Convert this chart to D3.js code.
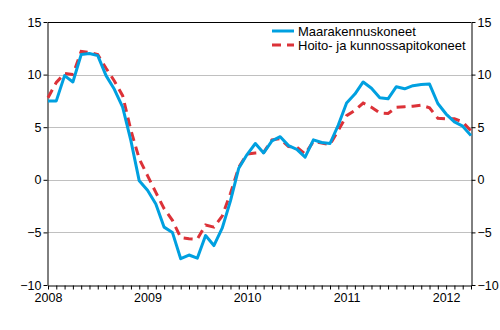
<!DOCTYPE html>
<html>
<head>
<meta charset="utf-8">
<script src="https://cdn.jsdelivr.net/npm/d3@7"></script>
<style>
  body { margin: 0; background: #fff; }
  svg text { font-family: "Liberation Sans", Arial, sans-serif; font-size: 12.5px; fill: #000; }
</style>
</head>
<body>
<div class="chart"></div>
<script>
// monthly index change, Jan 2008 .. Apr 2012
const yearLabels = ["2008", "2009", "2010", "2011", "2012"];
const yTicks = [-10, -5, 0, 5, 10, 15];
const seriesNames = ["Maarakennuskoneet", "Hoito- ja kunnossapitokoneet"];

const maarakennus = [
  7.5, 7.5, 9.9, 9.3, 11.9, 12.0, 11.8, 9.9, 8.6, 6.9, 3.7, -0.1,
  -1.0, -2.3, -4.5, -5.0, -7.5, -7.15, -7.45, -5.3, -6.25, -4.6, -2.0, 1.1,
  2.4, 3.45, 2.55, 3.7, 4.1, 3.25, 2.9, 2.15, 3.8, 3.55, 3.45, 5.2,
  7.3, 8.15, 9.3, 8.7, 7.8, 7.7, 8.85, 8.65, 8.95, 9.05, 9.1, 7.25,
  6.25, 5.5, 5.1, 4.2
];
const hoito = [
  7.8, 9.25, 10.1, 10.0, 12.2, 12.1, 11.9, 10.6, 9.4, 8.0, 4.7, 2.0,
  0.4, -1.2, -2.75, -3.85, -5.5, -5.6, -5.65, -4.3, -4.5, -3.45, -1.3, 1.2,
  2.45, 2.55, 2.6, 3.8, 3.9, 3.15, 3.1, 2.45, 3.65, 3.5, 3.35, 4.7,
  6.1, 6.6, 7.3, 6.9, 6.35, 6.3, 6.9, 6.95, 7.0, 7.1, 6.85, 5.85,
  5.8, 5.8, 5.5, 4.65
];

const width = 500, height = 330;
const plotLeft = 48, plotRight = 471, plotTop = 22, plotBottom = 285;

const svg = d3.select(".chart")
  .append("svg")
  .attr("width", width)
  .attr("height", height);

const x = d3.scaleLinear().domain([0, maarakennus.length - 1]).range([plotLeft, plotRight]);
const y = d3.scaleLinear().domain([-10, 15]).range([plotBottom, plotTop]);

// gridlines
svg.append("g")
  .selectAll("line")
  .data(yTicks.filter(d => d > -10 && d < 15))
  .enter()
  .append("line")
  .attr("x1", plotLeft).attr("x2", plotRight)
  .attr("y1", d => Math.round(y(d)) + 0.5)
  .attr("y2", d => Math.round(y(d)) + 0.5)
  .attr("stroke", "#c0c0c0");

// top frame line
svg.append("line")
  .attr("x1", plotLeft).attr("x2", plotRight)
  .attr("y1", Math.round(y(15)) + 0.5).attr("y2", Math.round(y(15)) + 0.5)
  .attr("stroke", "#000");

const styleAxis = g => {
  g.selectAll("path, line").attr("stroke", "#000");
  g.selectAll("text").attr("fill", "#000").style("font-size", "12.5px")
    .attr("font-family", null);
};

svg.append("g")
  .attr("transform", "translate(" + (plotLeft - 0.5) + ",0)")
  .call(d3.axisLeft(y).tickValues(yTicks).tickSize(4).tickSizeOuter(0).tickPadding(2))
  .call(styleAxis);

svg.append("g")
  .attr("transform", "translate(" + (plotRight + 0.5) + ",0)")
  .call(d3.axisRight(y).tickValues(yTicks).tickSize(4).tickSizeOuter(0).tickPadding(2))
  .call(styleAxis);

svg.append("g")
  .attr("transform", "translate(0," + (plotBottom + 0.5) + ")")
  .call(d3.axisBottom(x)
    .tickValues(d3.range(maarakennus.length))
    .tickSize(4).tickSizeOuter(0).tickPadding(4)
    .tickFormat(i => i % 12 === 0 ? yearLabels[i / 12] : ""))
  .call(styleAxis);

const line = d3.line()
  .x((d, i) => x(i))
  .y(d => y(d));

svg.append("path")
  .datum(hoito)
  .attr("d", line)
  .attr("fill", "none")
  .attr("stroke", "#dc3238")
  .attr("stroke-width", 3)
  .attr("stroke-dasharray", "9,6");

svg.append("path")
  .datum(maarakennus)
  .attr("d", line)
  .attr("fill", "none")
  .attr("stroke", "#00a0e0")
  .attr("stroke-width", 3)
  .attr("stroke-linejoin", "round");

// legend
const legend = svg.append("g").attr("transform", "translate(272,31)");
const legendStyles = [
  { color: "#00a0e0", dash: null },
  { color: "#dc3238", dash: "9,6" }
];
legend.selectAll("line")
  .data(seriesNames)
  .enter()
  .append("line")
  .attr("x1", 0).attr("x2", 22)
  .attr("y1", (d, i) => i * 14).attr("y2", (d, i) => i * 14)
  .attr("stroke", (d, i) => legendStyles[i].color)
  .attr("stroke-width", 3)
  .attr("stroke-dasharray", (d, i) => legendStyles[i].dash);
legend.selectAll("text")
  .data(seriesNames)
  .enter()
  .append("text")
  .attr("x", 26)
  .attr("y", (d, i) => i * 14 + 5)
  .style("font-size", "13px")
  .text(d => d);
</script>
</body>
</html>
